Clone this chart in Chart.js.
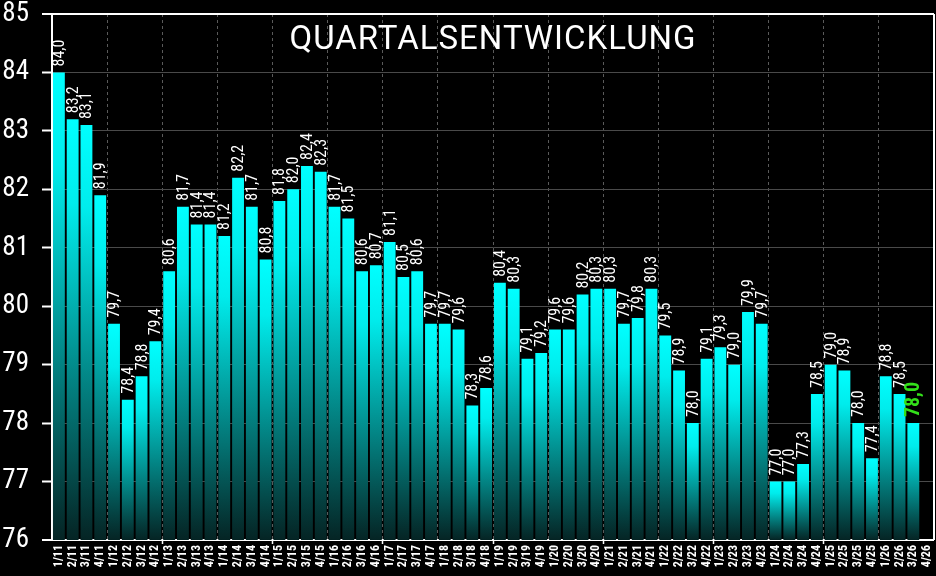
<!DOCTYPE html>
<html>
<head>
<meta charset="utf-8">
<script src="https://cdn.jsdelivr.net/npm/chart.js@4"></script>
<style>
  html, body { margin: 0; padding: 0; background: #000; }
  #wrap { width: 936px; height: 576px; }
</style>
</head>
<body>
<div id="wrap"><canvas id="c"></canvas></div>
<script>
const categories = [
  '1/11','2/11','3/11','4/11','1/12','2/12','3/12','4/12',
  '1/13','2/13','3/13','4/13','1/14','2/14','3/14','4/14',
  '1/15','2/15','3/15','4/15','1/16','2/16','3/16','4/16',
  '1/17','2/17','3/17','4/17','1/18','2/18','3/18','4/18',
  '1/19','2/19','3/19','4/19','1/20','2/20','3/20','4/20',
  '1/21','2/21','3/21','4/21','1/22','2/22','3/22','4/22',
  '1/23','2/23','3/23','4/23','1/24','2/24','3/24','4/24',
  '1/25','2/25','3/25','4/25','1/26','2/26','3/26','4/26'
];
const values = [
  84.0, 83.2, 83.1, 81.9, 79.7, 78.4, 78.8, 79.4,
  80.6, 81.7, 81.4, 81.4, 81.2, 82.2, 81.7, 80.8,
  81.8, 82.0, 82.4, 82.3, 81.7, 81.5, 80.6, 80.7,
  81.1, 80.5, 80.6, 79.7, 79.7, 79.6, 78.3, 78.6,
  80.4, 80.3, 79.1, 79.2, 79.6, 79.6, 80.2, 80.3,
  80.3, 79.7, 79.8, 80.3, 79.5, 78.9, 78.0, 79.1,
  79.3, 79.0, 79.9, 79.7, 77.0, 77.0, 77.3, 78.5,
  79.0, 78.9, 78.0, 77.4, 78.8, 78.5, 78.0, null
];
const yTicks = [76, 77, 78, 79, 80, 81, 82, 83, 84, 85];
const titleText = 'QUARTALSENTWICKLUNG';

const NARROW = "'Roboto Condensed', 'DejaVu Sans Condensed', sans-serif";

function barGradient(ctx) {
  const chart = ctx.chart;
  const area = chart.chartArea;
  if (!area || ctx.raw == null) return '#00ffff';
  const yScale = chart.scales.y;
  const top = yScale.getPixelForValue(ctx.raw);
  const bottom = area.bottom;
  const g = chart.ctx.createLinearGradient(0, top, 0, bottom);
  g.addColorStop(0, '#00ffff');
  g.addColorStop(0.2, '#00ecec');
  g.addColorStop(1, '#052424');
  return g;
}

const lastIdx = (() => { let k = -1; values.forEach((v, i) => { if (v != null) k = i; }); return k; })();

const overlay = {
  id: 'overlay',
  afterDatasetsDraw(chart) {
    const c = chart.ctx;
    const meta = chart.getDatasetMeta(0);
    meta.data.forEach((bar, i) => {
      const v = values[i];
      if (v == null) return;
      c.save();
      c.translate(bar.x + 1, bar.y - 6);
      c.rotate(-Math.PI / 2);
      c.textAlign = 'left';
      c.textBaseline = 'middle';
      if (i === lastIdx) {
        c.fillStyle = '#33e01a';
        c.font = 'bold 20px ' + NARROW;
      } else {
        c.fillStyle = '#ffffff';
        c.font = '16px ' + NARROW;
      }
      c.fillText(v.toFixed(1).replace('.', ','), 0, 0);
      c.restore();
    });
  },
  afterDraw(chart) {
    const c = chart.ctx;
    const a = chart.chartArea;
    c.save();
    c.strokeStyle = '#ffffff';
    c.lineWidth = 2;
    c.beginPath();
    c.moveTo(a.right, a.top);
    c.lineTo(a.right, a.bottom);
    c.stroke();
    c.fillStyle = '#ffffff';
    c.font = '33px Roboto, sans-serif';
    try { c.letterSpacing = '1px'; } catch (e) {}
    c.textAlign = 'center';
    c.textBaseline = 'middle';
    c.fillText(titleText, (a.left + a.right) / 2, 41);
    c.restore();
  }
};

new Chart(document.getElementById('c'), {
  type: 'bar',
  data: {
    labels: categories,
    datasets: [{
      data: values,
      backgroundColor: barGradient,
      borderWidth: 0,
      barPercentage: 0.86,
      categoryPercentage: 1.0
    }]
  },
  options: {
    responsive: true,
    maintainAspectRatio: false,
    animation: false,
    devicePixelRatio: 1,
    layout: { padding: { top: 0, right: 2, left: 0, bottom: 0 } },
    plugins: {
      legend: { display: false },
      title: { display: false },
      tooltip: { enabled: false }
    },
    scales: {
      x: {
        offset: true,
        border: { display: false, dash: [3, 3] },
        grid: {
          offset: true,
          color: (ctx) => (ctx.index > 0 && ctx.index % 4 === 0) ? '#5a5a5a' : 'rgba(0,0,0,0)',
          lineWidth: 1,
          drawTicks: true,
          tickLength: 4,
          tickColor: (ctx) => (ctx.index > 0 && ctx.index % 8 === 0) ? '#ffffff' : 'rgba(0,0,0,0)',
          tickWidth: 1.5
        },
        ticks: {
          autoSkip: false,
          maxRotation: 90,
          minRotation: 90,
          padding: 1,
          color: '#ffffff',
          font: { family: NARROW, size: 12, weight: 'bold' }
        },
        afterFit: (s) => { s.height = 36; s.paddingLeft = 0; s.paddingRight = 0; }
      },
      y: {
        min: 76,
        max: 85,
        afterBuildTicks: (s) => { s.ticks = yTicks.map(v => ({ value: v })); },
        border: { display: true, color: '#ffffff', width: 2 },
        grid: {
          color: (ctx) => (ctx.tick && (ctx.tick.value === 76 || ctx.tick.value === 85)) ? '#ffffff' : '#4a4a4a',
          lineWidth: (ctx) => (ctx.tick && (ctx.tick.value === 76 || ctx.tick.value === 85)) ? 2 : 1,
          drawTicks: true,
          tickLength: 10,
          tickColor: '#ffffff',
          tickWidth: 2
        },
        ticks: {
          color: '#ffffff',
          padding: 13,
          font: { family: NARROW, size: 27, lineHeight: 1 },
          callback: (v) => String(v)
        },
        afterFit: (s) => { s.width = 52; s.paddingTop = 14; s.paddingBottom = 0; }
      }
    }
  },
  plugins: [overlay]
});
</script>
</body>
</html>
